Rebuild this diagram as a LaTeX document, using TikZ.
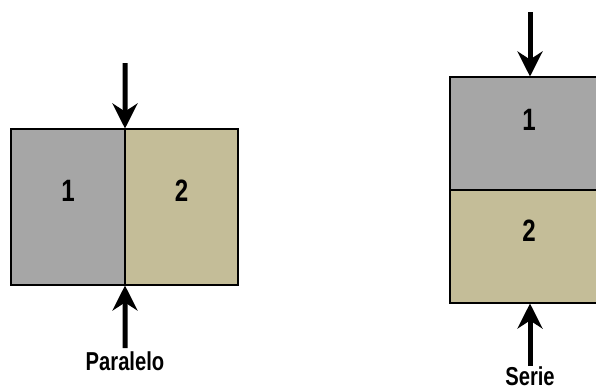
\documentclass[tikz,border=0pt]{standalone}
\usepackage{fontspec}
\setmainfont{Liberation Sans}
\usetikzlibrary{arrows.meta}
\definecolor{layergray}{RGB}{166,166,166}
\definecolor{layertan}{RGB}{196,189,152}
\newcommand{\narrow}[1]{\scalebox{0.78}[1]{#1}}
\begin{document}
\begin{tikzpicture}[x=1bp,y=-1bp,
  layer/.style={draw=black, line width=1.6bp, inner sep=0pt, outer sep=0pt},
  digit/.style={font=\fontsize{31}{33}\selectfont\bfseries, inner sep=0pt},
  force/.style={line width=5bp, -{Stealth[length=25bp, width=25bp, inset=8bp]}, shorten >=0.5bp},
  caption/.style={font=\fontsize{26}{28}\selectfont\bfseries, inner sep=0pt, anchor=base}]
\useasboundingbox (0,0) rectangle (596,389);
\clip (0,0) rectangle (596,389);
% parallel arrangement
\node[layer, fill=layergray, minimum width=114bp, minimum height=156bp] (p1) at (68,207) {};
\node[layer, fill=layertan, minimum width=113bp, minimum height=156bp] (p2) at (181.5,207) {};
\node[digit] (p1num) at (68,191) {\narrow{1}};
\node[digit] (p2num) at (181.5,191) {\narrow{2}};
\coordinate (ptop) at (125,63);
\coordinate (pbot) at (125,348);
\draw[force] (ptop) -- (p1.north east);
\draw[force] (pbot) -- (p1.south east);
\node[caption] (plabel) at (125,370) {\narrow{Paralelo}};
% series arrangement
\node[layer, fill=layergray, minimum width=160bp, minimum height=113bp] (s1) at (530,133.5) {};
\node[layer, fill=layertan, minimum width=160bp, minimum height=113bp] (s2) at (530,246.5) {};
\node[digit] (s1num) at (529,120) {\narrow{1}};
\node[digit] (s2num) at (529,231) {\narrow{2}};
\coordinate (stop) at (530,12);
\coordinate (sbot) at (530,366);
\draw[force] (stop) -- (s1.north);
\draw[force] (sbot) -- (s2.south);
\node[caption] (slabel) at (530,385) {\narrow{Serie}};
\end{tikzpicture}
\end{document}
